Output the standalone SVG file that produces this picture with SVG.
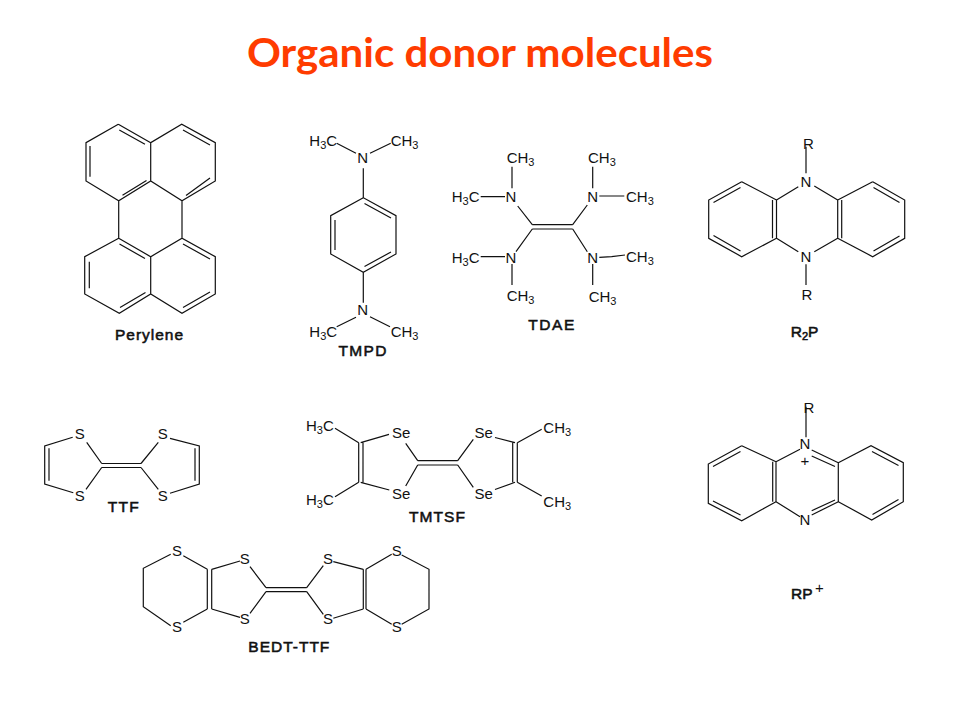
<svg xmlns="http://www.w3.org/2000/svg" width="960" height="720" viewBox="0 0 960 720">
<style>
.b{fill:none;stroke:#111;stroke-width:1.2;stroke-linejoin:miter}
text{font-family:"Liberation Sans",Arial,sans-serif;fill:#111}
.a{font-size:15px}
.s{font-size:11px}
.c{text-anchor:middle}
.l{font-size:15.5px;stroke:#111;stroke-width:.55}
.t{font-family:Lato,"Open Sans",sans-serif;font-size:41px;font-weight:700;fill:#FF3C00;stroke:none}
</style>
<rect width="960" height="720" fill="#fff"/>
<text class="t" x="247" y="67" textLength="466" lengthAdjust="spacingAndGlyphs">Organic donor molecules</text>

<g id="perylene">
<path class="b" d="M118.3 124.3L150.7 142.7M118.3 124.3L86 142.7V181L118.7 200.7L150.7 181L182 200.7L215.3 181V142.7L181.7 124.3L150.7 142.7V181M118.7 200.7V238.3M182 200.7V238.3M118.7 238.3L150.7 256.7L182 238.3L215.3 256.7V294L182 313.3L150.7 294L119.3 313.3L84.7 294V256.7L118.7 238.3M150.7 256.7V294"/>
<path class="b" d="M119.3 130L145 144.3M90 146V176.7M122.5 195.3L146.5 180.5M183 130L210 145M186 195.5L210 178M119.5 244L145 258.5M89.3 261.7V288.3M120 307.5L145.5 292.5M183 244L210 259M183 307.5L210 292"/>
<text class="l" x="115" y="340" textLength="68">Perylene</text>
</g>

<g id="tmpd">
<path class="b" d="M363.3 168.3V197.7L396 215.7V254L363.3 272.3L330.7 254V215.7L363.3 197.7M363.3 272.3V302.7M336.7 143.3L356 153.3M390.7 143.3L370 153.3M336.7 326.7L356 317.3M390 326.7L370 316.7"/>
<path class="b" d="M364.5 203.5L391 218M335 220V250M364.5 266.5L391 252"/>
<text class="a" x="309.3" y="146">H<tspan class="s" dy="3">3</tspan><tspan dy="-3">C</tspan></text>
<text class="a" x="390.7" y="146">CH<tspan class="s" dy="3">3</tspan></text>
<text class="a c" x="362.7" y="163.3">N</text>
<text class="a c" x="362.7" y="315.3">N</text>
<text class="a" x="309.3" y="336.7">H<tspan class="s" dy="3">3</tspan><tspan dy="-3">C</tspan></text>
<text class="a" x="390.7" y="336.7">CH<tspan class="s" dy="3">3</tspan></text>
<text class="l" x="338.5" y="356" textLength="48">TMPD</text>
</g>

<g id="tdae">
<path class="b" d="M532.3 224.7H572.7M532.3 229H572.7M532.3 224.7L517.7 206M572.7 224.7L587.3 205M532.3 229L516 251.7M572.7 229L587.3 251.7M512 166.7V188.3M592.7 166.7V188.3M480.7 196.7H505M599.3 196H624.3M480.7 256.7H505M599.3 257.3L611.7 256.7L625 255M512 264V285M592.7 264V285"/>
<text class="a" x="506.7" y="163.3">CH<tspan class="s" dy="3">3</tspan></text>
<text class="a" x="588" y="163.3">CH<tspan class="s" dy="3">3</tspan></text>
<text class="a" x="451.7" y="201.7">H<tspan class="s" dy="3">3</tspan><tspan dy="-3">C</tspan></text>
<text class="a" x="626" y="201.7">CH<tspan class="s" dy="3">3</tspan></text>
<text class="a c" x="511" y="201.7">N</text>
<text class="a c" x="592.7" y="201.7">N</text>
<text class="a c" x="511" y="263">N</text>
<text class="a c" x="592.7" y="263">N</text>
<text class="a" x="451.7" y="262.7">H<tspan class="s" dy="3">3</tspan><tspan dy="-3">C</tspan></text>
<text class="a" x="626" y="261.7">CH<tspan class="s" dy="3">3</tspan></text>
<text class="a" x="506.7" y="300.7">CH<tspan class="s" dy="3">3</tspan></text>
<text class="a" x="588.7" y="301.7">CH<tspan class="s" dy="3">3</tspan></text>
<text class="l" x="528.3" y="330" textLength="46">TDAE</text>
</g>

<g id="r2p">
<path class="b" d="M741.7 181.7L708.7 200V238.3L741.7 256.7L776.5 238.3M741.7 181.7L776.5 200M872.7 181.7L904.7 200V238.3L872.7 256.7L837.7 238.3M872.7 181.7L837.7 200M772.5 200V238.3M776.5 200V238.3M837.7 200V238.3M841.7 200V238.3M776.5 200L798.3 186.7M814.3 186L837.7 200M776.5 238.3L798.3 251.7M814.3 251.7L837.7 238.3M806 146.7V173.3M806 264.3V285"/>
<path class="b" d="M713.5 202.5L740.5 187.5M713.5 235.5L740.5 251M873.5 187.5L899.5 202.5M873.5 251L899.5 236"/>
<text class="a" x="803" y="149.3">R</text>
<text class="a c" x="806" y="186.7">N</text>
<text class="a c" x="806" y="261.7">N</text>
<text class="a" x="801.5" y="300">R</text>
<text class="l" x="790.7" y="337.3">R<tspan class="s" dy="3">2</tspan><tspan dy="-3">P</tspan></text>
</g>

<g id="ttf">
<path class="b" d="M72.7 437.3L44.7 446V484L73.3 492.7M49 448.3V480.7M86.7 442.3L101.7 463.5M86 489.3L101.7 467.5M101.7 463.5H141M101.7 467.5H141M141 463.5L158.3 442.3M141 467.5L158.3 489.3M170 438.3L199.3 446V484L170 493.3M195 448.3V480.7"/>
<text class="a c" x="79.7" y="439.3">S</text>
<text class="a c" x="79.7" y="500.7">S</text>
<text class="a c" x="162.7" y="439.3">S</text>
<text class="a c" x="162.7" y="500.7">S</text>
<text class="l" x="107.7" y="511.7" textLength="31">TTF</text>
</g>

<g id="tmtsf">
<path class="b" d="M358.7 442.7V482.3M363 442.7V482.3M335 428.3L358.7 442.7M335 496.7L358.7 482.3M360.7 442.7L389 434.3M360.7 482.3L389.3 490M405.7 443.3L417.7 460.7M405.7 486L417.7 465M417.7 460.7H457.7M417.7 465H457.7M457.7 460.7L473.3 439.3M457.7 465L473.3 487.3M495 437.5L515 442.7M495 489.5L515 482.3M512.7 442.7V482.3M517.3 442.7V482.3M517.3 442.7L541.7 429.3M517.3 482.3L541.7 496"/>
<text class="a" x="306" y="430.7">H<tspan class="s" dy="3">3</tspan><tspan dy="-3">C</tspan></text>
<text class="a" x="306" y="505">H<tspan class="s" dy="3">3</tspan><tspan dy="-3">C</tspan></text>
<text class="a" x="392" y="438.3">Se</text>
<text class="a" x="392" y="498.7">Se</text>
<text class="a" x="474.5" y="438.3">Se</text>
<text class="a" x="474.5" y="498.7">Se</text>
<text class="a" x="543.3" y="432.7">CH<tspan class="s" dy="3">3</tspan></text>
<text class="a" x="543.3" y="507.3">CH<tspan class="s" dy="3">3</tspan></text>
<text class="l" x="409" y="521.7" textLength="56">TMTSF</text>
</g>

<g id="bedt-ttf">
<path class="b" d="M170.7 554.3L143.3 568.3V606.7L170.7 625.7M183.3 555.7L207.3 569.3M183.3 622.3L207.3 609M207.3 569.3V609M211.7 569.3V609M211.7 569.3L240 561M211.7 609L240 617.3M250 566.7L266 587.7M250 613.3L266 591.7M266 587.7H306.7M266 591.7H306.7M306.7 587.7L323.3 565.7M306.7 591.7L323.3 614.3M333.3 561.7L363.3 569.3M333.3 618.3L363.3 609M363.3 569.3V609M366 569.3V609M366 569.3L391.7 554.3M366 609L391.7 624.3M401.7 555L429 569.3V609L401.7 624.3"/>
<text class="a c" x="177" y="555.7">S</text>
<text class="a c" x="177" y="631.7">S</text>
<text class="a c" x="244.7" y="564.3">S</text>
<text class="a c" x="244.7" y="624.3">S</text>
<text class="a c" x="328" y="564.3">S</text>
<text class="a c" x="328" y="624.3">S</text>
<text class="a c" x="396.7" y="555.7">S</text>
<text class="a c" x="396.7" y="631.7">S</text>
<text class="l" x="248.3" y="652.3" textLength="81">BEDT-TTF</text>
</g>

<g id="rp-plus">
<path class="b" d="M741.7 445.7L708.3 464V503.3L741.7 520.7L776 501.7M741.7 445.7L776 461.7M772.7 461.7V501.7M776 461.7V501.7M776 461.7L800 449.3M776 501.7L800 516.7M806 406.7V437.3M811.7 450L838.3 462.7M811.7 515L838.3 501.7M838.3 462.7V501.7M838.3 462.7L871 445.7L903.3 462.7V501.7L871.7 520L838.3 501.7"/>
<path class="b" d="M713 466.5L740.5 451.5M713 501L740.5 515M872 451.5L898.5 465.5M872.5 514.5L898.5 499.5M811.7 456L835 466.5M811.7 510.7L835 500"/>
<text class="a" x="803.5" y="412.7">R</text>
<text class="a c" x="805" y="449.3">N</text>
<text class="a c" x="805" y="466">+</text>
<text class="a c" x="805" y="525.3">N</text>
<text class="l" x="791" y="599.3">RP</text>
<text x="819.5" y="593" class="c" font-size="15">+</text>
</g>
</svg>
